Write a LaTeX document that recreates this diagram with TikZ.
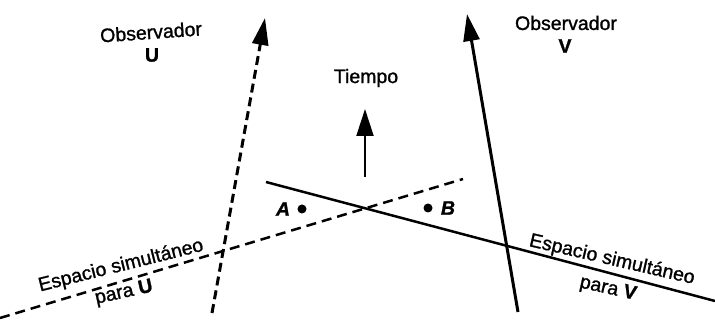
\documentclass[tikz,border=0pt]{standalone}
\usepackage{fontspec}
\setmainfont{Liberation Sans}[FakeBold=1.2]
\usetikzlibrary{arrows.meta}
\tikzset{
  lbl/.style={inner sep=0pt, font=\fontsize{19.5}{22}\selectfont},
  obsarrow/.style={line width=3pt, -{Triangle[length=27pt,width=16pt]}},
  timearrow/.style={line width=2pt, -{Triangle[length=27pt,width=17pt]}},
  simline/.style={line width=2.5pt},
  dashU/.style={dash pattern=on 9pt off 5pt},
  dashS/.style={dash pattern=on 10pt off 6pt},
  pt/.style={circle, fill=black, inner sep=0pt, minimum size=9pt}
}
\begin{document}
\begin{tikzpicture}[x=1pt,y=-1pt]
\useasboundingbox (0,0) rectangle (715,320);
% coordinates
\coordinate (u0) at (212,313);
\coordinate (u1) at (265,18);
\coordinate (v0) at (518,312);
\coordinate (v1) at (467,14);
\coordinate (t0) at (365,177);
\coordinate (t1) at (365,109);
\coordinate (sv0) at (266,182);
\coordinate (sv1) at (715,301);
\coordinate (su0) at (0,318);
\coordinate (su1) at (463,179);
% lines
\draw[simline,dashS] (su0) -- (su1);
\draw[simline] (sv0) -- (sv1);
\draw[obsarrow,dashU] (u0) -- (u1);
\draw[obsarrow] (v0) -- (v1);
\draw[timearrow] (t0) -- (t1);
% points
\node[pt] (A) at (302,209) {};
\node[pt] (B) at (428,208) {};
\node[lbl] (Al) at (283,209) {\textbf{\textit{A}}};
\node[lbl] (Bl) at (448,208) {\textbf{\textit{B}}};
% labels
\node[lbl, rotate=4] (obsU) at (151,32) {Observador};
\node[lbl] (U) at (152,55) {\textbf{U}};
\node[lbl] (obsV) at (566,23) {Observador};
\node[lbl] (V) at (565,46) {\textbf{V}};
\node[lbl] (tiempo) at (366,78) {Tiempo};
\node[lbl, rotate=14] (espU) at (121,266) {Espacio simultáneo};
\node[lbl, rotate=12.5] (paraU) at (124,293) {para \textbf{U}};
\node[lbl, rotate=-13] (espV) at (612,260) {Espacio simultáneo};
\node[lbl, rotate=-12.5] (paraV) at (608,289) {para \textbf{V}};
\end{tikzpicture}
\end{document}
